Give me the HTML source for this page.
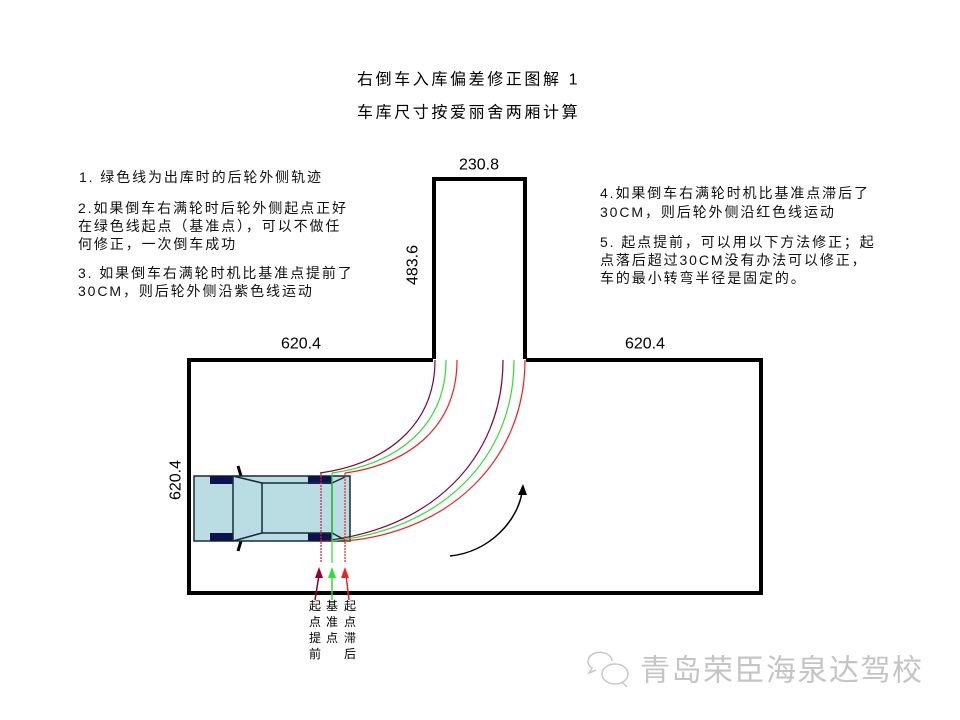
<!DOCTYPE html>
<html><head><meta charset="utf-8"><style>
html,body{margin:0;padding:0;background:#fff;}
svg{display:block;}
text{font-family:"Liberation Sans","Noto Sans CJK SC",sans-serif;}
.t{font-size:14px;letter-spacing:1.9px;fill:#111;}
</style></head><body>
<svg width="960" height="720" viewBox="0 0 960 720" xmlns="http://www.w3.org/2000/svg">
<rect width="960" height="720" fill="#fff"/>
<text x="357" y="80" font-size="16" letter-spacing="2.6" dominant-baseline="central">右倒车入库偏差修正图解 1</text>
<text x="357" y="113" font-size="16" letter-spacing="2.6" dominant-baseline="central">车库尺寸按爱丽舍两厢计算</text>

<g class="t" dominant-baseline="central">
<text x="79" y="177" class="t">1. 绿色线为出库时的后轮外侧轨迹</text>
<text x="78" y="208" class="t">2.如果倒车右满轮时后轮外侧起点正好</text>
<text x="78" y="226" class="t">在绿色线起点（基准点），可以不做任</text>
<text x="78" y="244" class="t">何修正，一次倒车成功</text>
<text x="78" y="273" class="t">3. 如果倒车右满轮时机比基准点提前了</text>
<text x="78" y="291" class="t">30CM，则后轮外侧沿紫色线运动</text>
<text x="600" y="193" class="t">4.如果倒车右满轮时机比基准点滞后了</text>
<text x="600" y="212" class="t">30CM，则后轮外侧沿红色线运动</text>
<text x="600" y="242" class="t">5. 起点提前，可以用以下方法修正；起</text>
<text x="600" y="260" class="t">点落后超过30CM没有办法可以修正，</text>
<text x="600" y="278" class="t">车的最小转弯半径是固定的。</text>
</g>

<path d="M434,360 L434,179 L525,179 L525,360 L761,360 L761,593 L189,593 L189,360 Z" fill="none" stroke="#000" stroke-width="4" stroke-linejoin="miter"/>
<rect x="433" y="359" width="93" height="5" fill="#fff"/>

<text x="479" y="165" font-size="16" text-anchor="middle" dominant-baseline="central">230.8</text>
<text x="301" y="344" font-size="16" text-anchor="middle" dominant-baseline="central">620.4</text>
<text x="645" y="344" font-size="16" text-anchor="middle" dominant-baseline="central">620.4</text>
<text transform="translate(413,265) rotate(-90)" font-size="16" text-anchor="middle" dominant-baseline="central">483.6</text>
<text transform="translate(176,480) rotate(-90)" font-size="16" text-anchor="middle" dominant-baseline="central">620.4</text>

<g stroke="#1a2a3a" stroke-width="1.5" fill="none">
<line x1="238" y1="466" x2="241" y2="476" stroke="#000" stroke-width="3"/>
<line x1="241" y1="541" x2="238" y2="551" stroke="#000" stroke-width="3"/>
<rect x="194" y="476" width="156" height="65" fill="#b9dde2"/>
<rect x="210" y="476" width="23" height="8" fill="#0c1450" stroke="none"/>
<rect x="210" y="533" width="23" height="8" fill="#0c1450" stroke="none"/>
<rect x="308" y="476" width="24" height="8" fill="#0c1450" stroke="none"/>
<rect x="308" y="533" width="24" height="8" fill="#0c1450" stroke="none"/>
<line x1="233" y1="476" x2="233" y2="541"/>
<line x1="233" y1="476" x2="262" y2="483"/>
<line x1="233" y1="541" x2="262" y2="533"/>
<rect x="262" y="483" width="70" height="50"/>
<line x1="332" y1="483" x2="345" y2="477"/>
<line x1="332" y1="533" x2="345" y2="540"/>
</g>

<g fill="none" stroke-width="1.2">
<path d="M320,473 C380,465 435,430 435,360" stroke="#800040"/>
<path d="M332,473 C392,465 446,430 446,360" stroke="#33dd33"/>
<path d="M345,473 C405,465 457,430 457,360" stroke="#ee2222"/>
<path d="M322,541 C430,530 503,460 503,360" stroke="#800040"/>
<path d="M332,541 C440,530 514,460 514,360" stroke="#33dd33"/>
<path d="M345,541 C450,532 525,460 525,360" stroke="#ee2222"/>
<line x1="321" y1="473" x2="321" y2="563" stroke="#cc2244" stroke-dasharray="2,1"/>
<line x1="332" y1="473" x2="332" y2="563" stroke="#33dd33"/>
<line x1="345" y1="473" x2="345" y2="563" stroke="#ee2222" stroke-dasharray="2,1"/>
</g>
<g stroke-width="1.5">
<line x1="315" y1="600" x2="319" y2="575" stroke="#990022"/>
<polygon points="319,567 315,578 323,578" fill="#990022"/>
<line x1="332" y1="600" x2="332" y2="575" stroke="#33dd33"/>
<polygon points="332,567 328,578 336,578" fill="#33dd33"/>
<line x1="349" y1="600" x2="346" y2="575" stroke="#ee2222"/>
<polygon points="345,567 341,578 349,578" fill="#ee2222"/>
</g>
<g font-size="12" text-anchor="middle">
<text x="315" y="610">起</text><text x="315" y="626">点</text><text x="315" y="642">提</text><text x="315" y="658">前</text>
<text x="332" y="610">基</text><text x="332" y="626">准</text><text x="332" y="642">点</text>
<text x="350" y="610">起</text><text x="350" y="626">点</text><text x="350" y="642">滞</text><text x="350" y="658">后</text>
</g>

<path d="M450,556 C490,552 518,520 522,492" fill="none" stroke="#000" stroke-width="1.5"/>
<polygon points="523,484 518,495 527,495" fill="#000"/>

<g fill="none" stroke="#c8c8c8" stroke-width="1.5">
<path d="M612,661 a12,9 0 1 0 -20,7 l-3,5 l7,-3"/>
<ellipse cx="615" cy="674" rx="13" ry="10"/>
<path d="M622,682 l5,5"/>
</g>
<text x="640" y="671" font-size="30" fill="#c4c4c4" letter-spacing="1.5" dominant-baseline="central">青岛荣臣海泉达驾校</text>
</svg>
</body></html>
